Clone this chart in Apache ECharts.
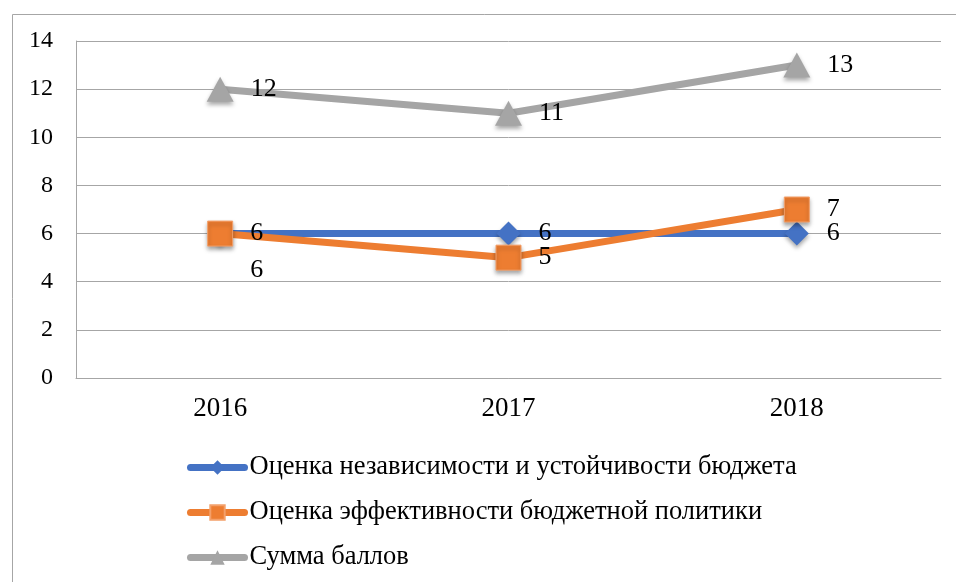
<!DOCTYPE html>
<html>
<head>
<meta charset="utf-8">
<script src="https://cdn.jsdelivr.net/npm/echarts@6/dist/echarts.min.js"></script>
<style>
  html, body { margin: 0; padding: 0; background: #fff; }
  #chart { width: 956px; height: 582px; }
</style>
</head>
<body>
<div id="chart"></div>
<script>
const years = ['2016', '2017', '2018']
const nameIndep = 'Оценка независимости и устойчивости бюджета'
const nameEff = 'Оценка эффективности бюджетной политики'
const nameSum = 'Сумма баллов'
const indepValues = [6, 6, 6]
const effValues = [6, 5, 7]
const sumValues = [12, 11, 13]

const font = '"Liberation Serif", "Times New Roman", serif'
const markerShadow = {
  shadowColor: 'rgba(0,0,0,0.35)',
  shadowBlur: 4,
  shadowOffsetY: 3,
}
// общий стиль подписей точек
const pointLabel = (distance) => ({
  show: true,
  position: 'right',
  distance: distance,
  fontFamily: font,
  fontSize: 26,
  color: '#000',
})

const myChart = echarts.init(document.getElementById('chart'), null, { renderer: 'canvas' })

const option = {
  animation: false,
  backgroundColor: '#fff',
  textStyle: { fontFamily: font },
  graphic: [
    {
      type: 'rect',
      left: 10,
      top: 12,
      shape: { width: 960, height: 600 },
      style: { fill: 'none', stroke: '#a6a6a6', lineWidth: 1 },
      silent: true,
    },
  ],
  grid: {
    left: 76,
    right: 15,
    top: 41,
    bottom: 204,
  },
  legend: {
    orient: 'vertical',
    left: 182,
    top: 447,
    itemWidth: 54,
    itemHeight: 18,
    itemGap: 14,
    lineStyle: { width: 7, cap: 'round' },
    textStyle: { fontFamily: font, fontSize: 26.5, color: '#000', lineHeight: 31 },
    data: [nameIndep, nameEff, nameSum],
  },
  xAxis: {
    type: 'category',
    data: years,
    boundaryGap: true,
    axisTick: { show: false },
    axisLine: { lineStyle: { color: '#a6a6a6', width: 1 } },
    axisLabel: { fontFamily: font, fontSize: 27, color: '#000', margin: 17 },
  },
  yAxis: {
    type: 'value',
    min: 0,
    max: 14,
    interval: 2,
    axisLine: { show: true, lineStyle: { color: '#a6a6a6', width: 1 } },
    axisTick: { show: false },
    splitLine: { lineStyle: { color: '#a6a6a6', width: 1 } },
    axisLabel: { fontFamily: font, fontSize: 24, color: '#000', margin: 23 },
  },
  series: [
    {
      name: nameIndep,
      type: 'line',
      data: indepValues.map((v, i) =>
        i === 0 ? { value: v, label: { offset: [0, 37] } } : v
      ),
      symbol: 'diamond',
      symbolSize: 24,
      z: 3,
      lineStyle: { color: '#4472C4', width: 7 },
      itemStyle: Object.assign({ color: '#4472C4' }, markerShadow),
      label: pointLabel(18),
    },
    {
      name: nameEff,
      type: 'line',
      data: effValues,
      symbol: 'rect',
      symbolSize: 25,
      z: 4,
      lineStyle: { color: '#ED7D31', width: 7 },
      itemStyle: Object.assign({ color: '#ED7D31', borderColor: '#F4A06A', borderWidth: 1 }, markerShadow),
      label: pointLabel(17),
    },
    {
      name: nameSum,
      type: 'line',
      data: sumValues,
      symbol: 'triangle',
      symbolSize: [27, 25],
      z: 2,
      lineStyle: { color: '#A5A5A5', width: 7 },
      itemStyle: Object.assign({ color: '#A5A5A5' }, markerShadow),
      label: pointLabel(17),
    },
  ],
}

myChart.setOption(option)
</script>
</body>
</html>
